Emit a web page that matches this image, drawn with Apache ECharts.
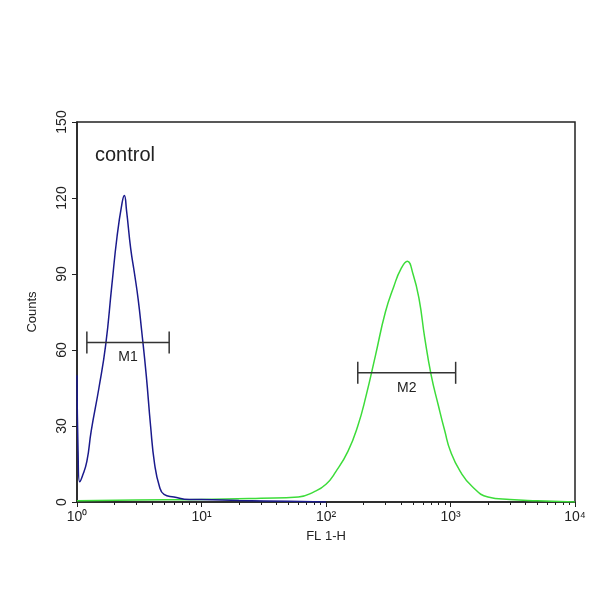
<!DOCTYPE html>
<html>
<head>
<meta charset="utf-8">
<script src="https://cdn.jsdelivr.net/npm/echarts@6/dist/echarts.min.js"></script>
<style>html,body{margin:0;background:#fff}#chart{width:600px;height:600px}</style>
</head>
<body>
<div id="chart"></div>
<script>
// control (blue) histogram, [FL1-H, counts]
var controlX = [1.0, 1.02, 1.05, 1.1, 1.2, 1.3, 1.5, 1.7, 1.9, 2.1, 2.3, 2.4, 2.5, 2.7, 2.9, 3.1, 3.3, 3.6, 3.9, 4.2, 4.6, 5, 6, 8, 10, 20, 50, 100];
var controlY = [50, 20, 8, 10, 16, 28, 45, 62, 85, 105, 118, 121, 115, 100, 90, 80, 68, 50, 30, 15, 6, 3, 2, 1, 1, 0.6, 0.3, 0];
// sample (green) histogram
var sampleX = [1, 3, 10, 30, 60, 80, 100, 120, 150, 180, 210, 250, 300, 350, 400, 450, 500, 560, 620, 700, 800, 900, 1000, 1200, 1500, 2000, 3000, 5000, 10000];
var sampleY = [0.5, 0.8, 1, 1.5, 2, 4, 7, 12, 20, 30, 42, 58, 75, 85, 92, 95, 90, 80, 65, 50, 38, 28, 20, 12, 6, 2, 1, 0.5, 0];
var yTicks = [0, 30, 60, 90, 120, 150];
// gates
var m1 = [1.2, 5.5, 63];
var m2 = [180, 1100, 51];

function pairs(xs, ys) { return xs.map(function (x, i) { return [x, ys[i]]; }); }
function gate(g, name) {
  var mid = Math.sqrt(g[0] * g[1]);
  return {
    type: 'line', data: [[g[0], g[2]], [mid, g[2]], [g[1], g[2]]],
    lineStyle: { color: '#333', width: 1.5 }, symbol: 'rect', symbolSize: function (v, p) { return p.dataIndex === 1 ? 0 : [1.5, 22]; },
    itemStyle: { color: '#333' }, silent: true,
    label: { show: true, formatter: function (p) { return p.dataIndex === 1 ? name : ''; }, position: 'bottom', distance: 8, color: '#222', fontSize: 14 }
  };
}
var sup = { '0': '⁰', '1': '¹', '2': '²', '3': '³', '4': '⁴' };
var chart = echarts.init(document.getElementById('chart'));
chart.setOption({
  animation: false,
  grid: { left: 77, right: 25, top: 122, bottom: 98, show: true, borderColor: '#222', borderWidth: 1.5 },
  xAxis: {
    type: 'log', min: 1, max: 10000, logBase: 10,
    name: 'FL 1-H', nameLocation: 'middle', nameGap: 28, nameTextStyle: { color: '#222', fontSize: 13 },
    axisLine: { lineStyle: { color: '#222', width: 1.5 } }, axisTick: { lineStyle: { color: '#222' } },
    minorTick: { show: true, splitNumber: 9 }, splitLine: { show: false },
    axisLabel: { color: '#222', fontSize: 14, formatter: function (v) { return '10' + sup[Math.round(Math.log10(v))]; } }
  },
  yAxis: {
    type: 'value', min: 0, max: 150, interval: 30,
    name: 'Counts', nameLocation: 'middle', nameGap: 38, nameTextStyle: { color: '#222', fontSize: 13 },
    axisLine: { show: true, lineStyle: { color: '#222', width: 1.5 } }, axisTick: { show: true, lineStyle: { color: '#222' } },
    splitLine: { show: false },
    axisLabel: { color: '#222', fontSize: 14, rotate: 90, formatter: function (v) { return yTicks.indexOf(v) >= 0 ? String(v) : ''; } }
  },
  graphic: [{ type: 'text', left: 95, top: 145, style: { text: 'control', fontSize: 20, fill: '#222' } }],
  series: [
    { type: 'line', data: pairs(sampleX, sampleY), symbol: 'none', smooth: true, lineStyle: { color: '#3ddc3a', width: 1.5 } },
    { type: 'line', data: pairs(controlX, controlY), symbol: 'none', smooth: true, lineStyle: { color: '#1a1a8c', width: 1.5 } },
    gate(m1, 'M1'), gate(m2, 'M2')
  ]
});
</script>
</body>
</html>
